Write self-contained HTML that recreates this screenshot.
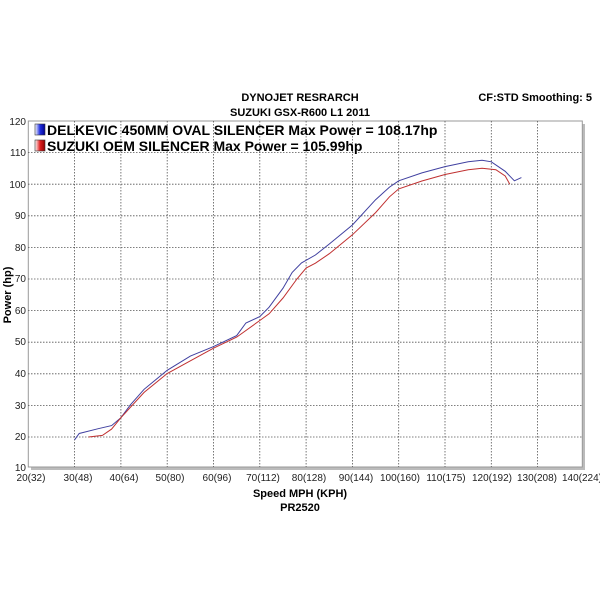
<!DOCTYPE html>
<html><head><style>
body{margin:0;background:#fff;}
svg{display:block;font-family:"Liberation Sans",Arial,sans-serif;}
</style></head><body>
<svg width="600" height="600" xmlns="http://www.w3.org/2000/svg">
<defs>
<linearGradient id="gb" x1="0" x2="1"><stop offset="0" stop-color="#fff"/><stop offset="0.5" stop-color="#2030e0"/><stop offset="1" stop-color="#000090"/></linearGradient>
<linearGradient id="gr" x1="0" x2="1"><stop offset="0" stop-color="#fff"/><stop offset="0.5" stop-color="#e02020"/><stop offset="1" stop-color="#900000"/></linearGradient>
</defs>
<text x="300" y="101" font-size="11" font-weight="bold" text-anchor="middle">DYNOJET RESRARCH</text>
<text x="300" y="116" font-size="11" font-weight="bold" text-anchor="middle">SUZUKI GSX-R600 L1 2011</text>
<text x="592" y="101" font-size="11" font-weight="bold" text-anchor="end">CF:STD Smoothing: 5</text>
<rect x="31" y="124" width="554" height="346" fill="#bbb"/>
<rect x="28.3" y="121" width="554" height="346" fill="#fff" stroke="#999" stroke-width="1"/>
<g stroke="#555" stroke-width="0.8" stroke-dasharray="1.5,1.5">
<line x1="74.6" y1="121" x2="74.6" y2="467"/><line x1="120.9" y1="121" x2="120.9" y2="467"/><line x1="167.2" y1="121" x2="167.2" y2="467"/><line x1="213.5" y1="121" x2="213.5" y2="467"/><line x1="259.8" y1="121" x2="259.8" y2="467"/><line x1="306.1" y1="121" x2="306.1" y2="467"/><line x1="352.4" y1="121" x2="352.4" y2="467"/><line x1="398.7" y1="121" x2="398.7" y2="467"/><line x1="445" y1="121" x2="445" y2="467"/><line x1="491.3" y1="121" x2="491.3" y2="467"/><line x1="537.6" y1="121" x2="537.6" y2="467"/>
<line x1="28" y1="152.6" x2="582" y2="152.6"/><line x1="28" y1="184.2" x2="582" y2="184.2"/><line x1="28" y1="215.8" x2="582" y2="215.8"/><line x1="28" y1="247.4" x2="582" y2="247.4"/><line x1="28" y1="279" x2="582" y2="279"/><line x1="28" y1="310.6" x2="582" y2="310.6"/><line x1="28" y1="342.2" x2="582" y2="342.2"/><line x1="28" y1="373.8" x2="582" y2="373.8"/><line x1="28" y1="405.4" x2="582" y2="405.4"/><line x1="28" y1="437" x2="582" y2="437"/>
</g>
<g font-size="10" text-anchor="end" fill="#222">
<text x="26" y="125">120</text><text x="26" y="156">110</text><text x="26" y="188">100</text><text x="26" y="219">90</text><text x="26" y="251">80</text><text x="26" y="282">70</text><text x="26" y="314">60</text><text x="26" y="345">50</text><text x="26" y="377">40</text><text x="26" y="409">30</text><text x="26" y="440">20</text><text x="26" y="471">10</text>
</g>
<g font-size="10" text-anchor="middle" fill="#222">
<text x="31" y="481">20(32)</text><text x="78" y="481">30(48)</text><text x="124" y="481">40(64)</text><text x="170" y="481">50(80)</text><text x="217" y="481">60(96)</text><text x="263" y="481">70(112)</text><text x="309" y="481">80(128)</text><text x="356" y="481">90(144)</text><text x="400" y="481">100(160)</text><text x="446" y="481">110(175)</text><text x="492" y="481">120(192)</text><text x="537" y="481">130(208)</text><text x="582" y="481">140(224)</text>
</g>
<text x="300" y="497" font-size="11" font-weight="bold" text-anchor="middle">Speed MPH (KPH)</text>
<text x="300" y="511" font-size="11" font-weight="bold" text-anchor="middle">PR2520</text>
<text transform="translate(11,295) rotate(-90)" font-size="11" font-weight="bold" text-anchor="middle">Power (hp)</text>
<rect x="35" y="124" width="10" height="11" fill="url(#gb)" stroke="#333" stroke-width="0.6"/>
<rect x="35" y="140" width="10" height="11" fill="url(#gr)" stroke="#333" stroke-width="0.6"/>
<text x="47" y="135" font-size="14" font-weight="bold">DELKEVIC 450MM OVAL SILENCER Max Power = 108.17hp</text>
<text x="47" y="151" font-size="14" font-weight="bold">SUZUKI OEM SILENCER Max Power = 105.99hp</text>
<polyline fill="none" stroke="#4040a0" stroke-width="1" points="74.6,439.8 79.2,433.5 97.7,428.8 111.6,425.6 120.9,417.7 130.2,405.1 144.1,389.3 167.2,370.3 190.4,356.1 213.5,346.6 236.7,335.6 245.9,323 259.8,316.6 269.1,307.2 283,288.2 292.2,272.4 301.5,262.9 315.4,255 329.3,244 352.4,225 375.6,199.7 389.5,187.1 398.7,180.8 421.9,172.9 445,166.6 468.2,161.8 482.1,160.3 491.3,161.8 505.2,171.3 514.4,180.8 521.4,177.6"/>
<polyline fill="none" stroke="#c03030" stroke-width="1" points="88.5,437 102.4,435.4 111.6,429.1 120.9,417.7 144.1,392.4 167.2,373.5 190.4,360.8 213.5,348.2 236.7,337.1 259.8,320.5 269.1,313.8 283,298 296.9,279 306.1,268 315.4,263.2 329.3,253.7 352.4,234.8 375.6,212.6 389.5,196.8 398.7,188.9 421.9,181 445,174.5 468.2,169.7 482.1,168.2 495.9,169.7 505.2,176 509.8,184.2"/>
</svg>
</body></html>
